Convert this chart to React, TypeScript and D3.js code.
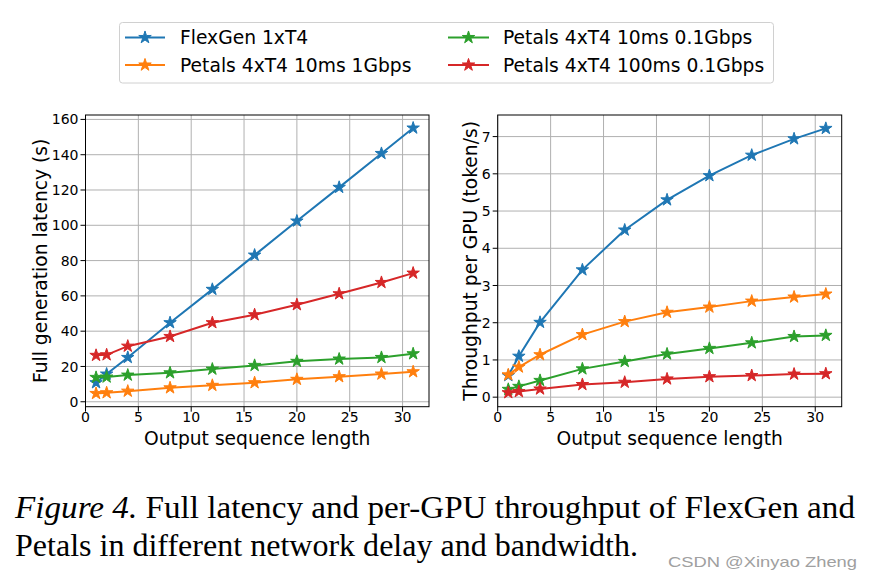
import React from "react";
import * as d3 from "d3";

const seqLen = [1, 2, 4, 8, 12, 16, 20, 24, 28, 31];
const seriesNames = [
  "FlexGen 1xT4",
  "Petals 4xT4 10ms 1Gbps",
  "Petals 4xT4 10ms 0.1Gbps",
  "Petals 4xT4 100ms 0.1Gbps",
];
const colors = ["#1f77b4", "#ff7f0e", "#2ca02c", "#d62728"];

// Latency (s)
const latFlexGen = [10.8, 15.7, 25.1, 44.8, 63.7, 83.1, 102.4, 121.5, 140.7, 155.1];
const latPetals1G = [4.7, 5.1, 6.0, 7.9, 9.3, 10.8, 12.7, 14.2, 15.7, 17.0];
const latPetals10ms01G = [13.8, 14.0, 15.1, 16.4, 18.5, 20.6, 22.9, 24.2, 25.1, 27.2];
const latPetals100ms01G = [26.3, 26.6, 31.5, 37.0, 44.8, 49.3, 55.0, 61.2, 67.6, 72.9];

// Throughput per GPU (token/s)
const thrFlexGen = [0.58, 1.1, 2.01, 3.42, 4.49, 5.3, 5.95, 6.5, 6.94, 7.22];
const thrPetals1G = [0.6, 0.81, 1.14, 1.68, 2.03, 2.28, 2.42, 2.58, 2.69, 2.77];
const thrPetals10ms01G = [0.21, 0.29, 0.45, 0.76, 0.96, 1.16, 1.31, 1.46, 1.63, 1.66];
const thrPetals100ms01G = [0.12, 0.15, 0.22, 0.34, 0.4, 0.49, 0.55, 0.58, 0.62, 0.63];

const xTicks = [0, 5, 10, 15, 20, 25, 30];
const latTicks = [0, 20, 40, 60, 80, 100, 120, 140, 160];
const thrTicks = [0, 1, 2, 3, 4, 5, 6, 7];

const latSeries = [latFlexGen, latPetals1G, latPetals10ms01G, latPetals100ms01G];
const thrSeries = [thrFlexGen, thrPetals1G, thrPetals10ms01G, thrPetals100ms01G];

const FONT = "DejaVu Sans, sans-serif";
const star = d3.symbol().type(d3.symbolStar).size(48)();

type PanelProps = {
  left: number;
  right: number;
  series: number[][];
  yDomain: [number, number];
  yTicks: number[];
  yLabel: string;
  yLabelX: number;
};

function Panel({ left, right, series, yDomain, yTicks, yLabel, yLabelX }: PanelProps) {
  const top = 115;
  const bottom = 406.7;
  const x = d3.scaleLinear().domain([0, 32.5]).range([left, right]);
  const y = d3.scaleLinear().domain(yDomain).range([bottom, top]);
  const line = d3
    .line<number>()
    .x((_, i) => x(seqLen[i]))
    .y((d) => y(d));
  return (
    <g>
      <clipPath id={`clip${left}`}>
        <rect x={left} y={top} width={right - left} height={bottom - top} />
      </clipPath>
      {xTicks.map((t) => (
        <line key={"gx" + t} x1={x(t)} x2={x(t)} y1={top} y2={bottom} stroke="#b0b0b0" strokeWidth={1} />
      ))}
      {yTicks.map((t) => (
        <line key={"gy" + t} x1={left} x2={right} y1={y(t)} y2={y(t)} stroke="#b0b0b0" strokeWidth={1} />
      ))}
      <g clipPath={`url(#clip${left})`}>
        {series.map((s, k) => (
          <g key={k}>
            <path d={line(s) || ""} fill="none" stroke={colors[k]} strokeWidth={2} />
            {s.map((v, i) => (
              <path key={i} d={star} transform={`translate(${x(seqLen[i])},${y(v)})`} fill={colors[k]} stroke={colors[k]} strokeWidth={1} />
            ))}
          </g>
        ))}
      </g>
      <rect x={left} y={top} width={right - left} height={bottom - top} fill="none" stroke="#000" strokeWidth={1} />
      {xTicks.map((t) => (
        <g key={"tx" + t}>
          <line x1={x(t)} x2={x(t)} y1={bottom} y2={bottom + 5} stroke="#000" />
          <text x={x(t)} y={bottom + 5.5} dy="0.71em" textAnchor="middle" fontFamily={FONT} fontSize={14} fill="#000">
            {t}
          </text>
        </g>
      ))}
      {yTicks.map((t) => (
        <g key={"ty" + t}>
          <line x1={left - 5} x2={left} y1={y(t)} y2={y(t)} stroke="#000" />
          <text x={left - 7} y={y(t)} dy="0.36em" textAnchor="end" fontFamily={FONT} fontSize={14} fill="#000">
            {t}
          </text>
        </g>
      ))}
      <text x={(left + right) / 2} y={444.5} textAnchor="middle" fontFamily={FONT} fontSize={18.7} fill="#000">
        Output sequence length
      </text>
      <text
        transform={`translate(${yLabelX},${(top + bottom) / 2}) rotate(-90)`}
        textAnchor="middle"
        dy="0.36em"
        fontFamily={FONT}
        fontSize={18.7}
        fill="#000"
      >
        {yLabel}
      </text>
    </g>
  );
}

function Legend() {
  const rows = [37.5, 65];
  const cols = [
    { h0: 125, h1: 165, tx: 180 },
    { h0: 448, h1: 489, tx: 503 },
  ];
  return (
    <g>
      <rect x={119.5} y={22.5} width={654} height={60.5} rx={3} fill="#fff" stroke="#d0d0d0" strokeWidth={1} />
      {seriesNames.map((name, i) => {
        const c = cols[Math.floor(i / 2)];
        const yy = rows[i % 2];
        return (
          <g key={name}>
            <line x1={c.h0} x2={c.h1} y1={yy} y2={yy} stroke={colors[i]} strokeWidth={2} />
            <path d={star} transform={`translate(${(c.h0 + c.h1) / 2},${yy})`} fill={colors[i]} stroke={colors[i]} strokeWidth={1} />
            <text x={c.tx} y={yy} dy="0.36em" fontFamily={FONT} fontSize={18.7} fill="#000">
              {name}
            </text>
          </g>
        );
      })}
    </g>
  );
}

export default function App() {
  return (
    <svg width={872} height={581} style={{ position: "absolute", left: 0, top: 0, background: "#fff" }}>
      <rect x={0} y={0} width={872} height={581} fill="#fff" />
      <Legend />
      <Panel left={85.5} right={429} series={latSeries} yDomain={[-2.8, 162.5]} yTicks={latTicks} yLabel="Full generation latency (s)" yLabelX={40} />
      <Panel left={497.7} right={841.7} series={thrSeries} yDomain={[-0.256, 7.58]} yTicks={thrTicks} yLabel="Throughput per GPU (token/s)" yLabelX={470} />
      <text x={15} y={518} fontFamily="Liberation Serif, Times New Roman, serif" fontSize={32} fill="#000" textLength={840} lengthAdjust="spacingAndGlyphs">
        <tspan fontStyle="italic">Figure 4.</tspan> Full latency and per-GPU throughput of FlexGen and
      </text>
      <text x={15} y={556} fontFamily="Liberation Serif, Times New Roman, serif" fontSize={32} fill="#000" textLength={623} lengthAdjust="spacingAndGlyphs">
        Petals in different network delay and bandwidth.
      </text>
      <text x={668} y={567} fontFamily="Liberation Sans, Arial, sans-serif" fontSize={14.5} fill="#a0a0a0" textLength={189} lengthAdjust="spacingAndGlyphs">
        CSDN @Xinyao Zheng
      </text>
    </svg>
  );
}
